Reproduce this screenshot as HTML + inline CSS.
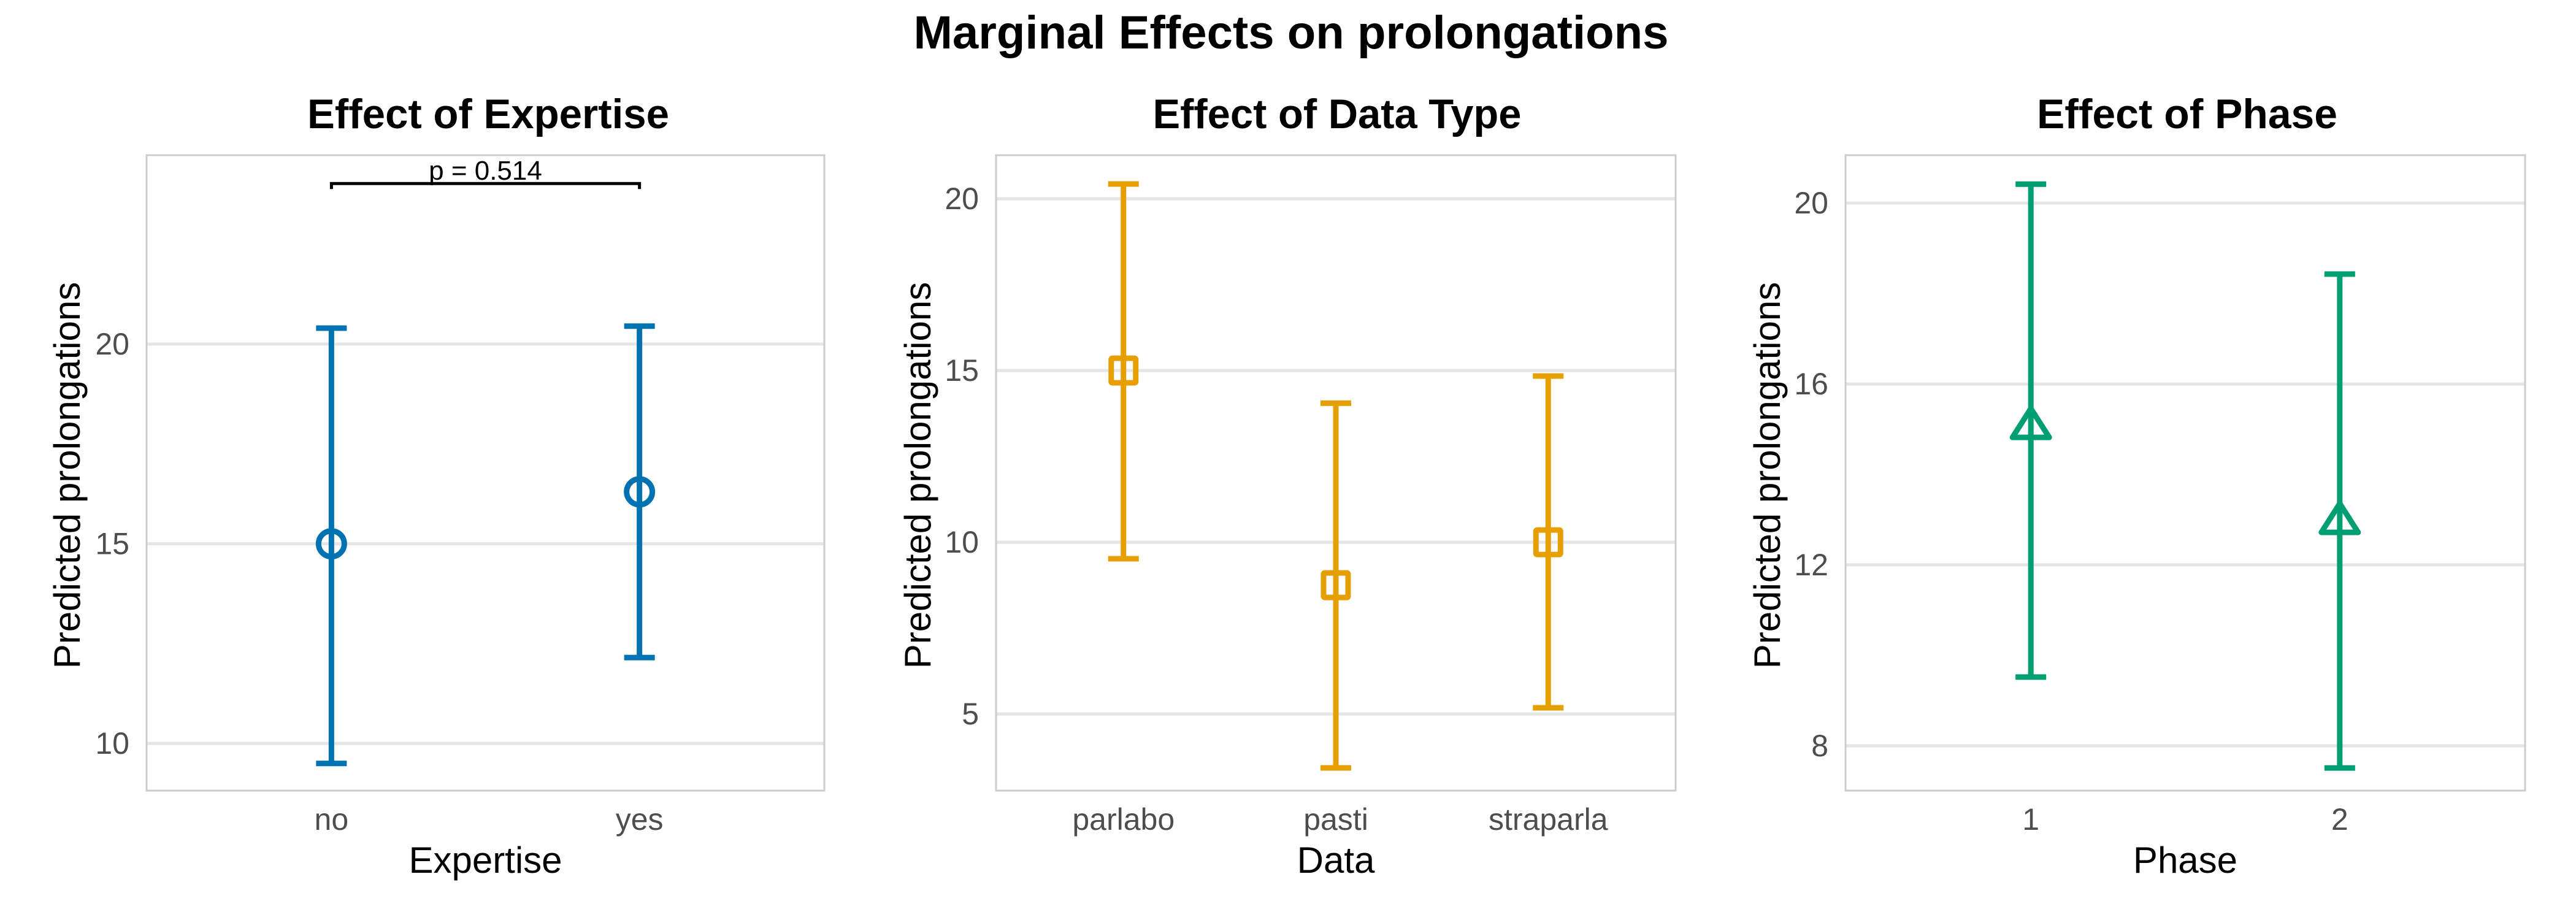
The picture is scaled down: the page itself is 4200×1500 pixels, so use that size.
<!DOCTYPE html>
<html><head><meta charset="utf-8"><style>
html,body{margin:0;padding:0;background:#fff;}
svg{display:block;font-family:"Liberation Sans",Arial,sans-serif;}
</style></head><body>
<svg id="fig" width="4200" height="1500" viewBox="0 0 4200 1500" xmlns="http://www.w3.org/2000/svg">
<rect width="4200" height="1500" fill="#fff"/>
<text x="2105" y="79" text-anchor="middle" font-size="76" font-weight="bold" textLength="1231" lengthAdjust="spacingAndGlyphs">Marginal Effects on prolongations</text>
</svg>
<script>
// Panel 1: Expertise
const expCategories = ["no", "yes"];
const expEstimate = [15.0, 16.3];
const expLower = [9.5, 12.15];
const expUpper = [20.4, 20.45];
const expTicks = [10, 15, 20];
// Panel 2: Data type
const dataCategories = ["parlabo", "pasti", "straparla"];
const dataEstimate = [15.0, 8.75, 10.0];
const dataLower = [9.52, 3.43, 5.18];
const dataUpper = [20.43, 14.05, 14.84];
const dataTicks = [5, 10, 15, 20];
// Panel 3: Phase
const phaseCategories = ["1", "2"];
const phaseEstimate = [15.05, 12.95];
const phaseLower = [9.52, 7.51];
const phaseUpper = [20.42, 18.43];
const phaseTicks = [8, 12, 16, 20];
// significance annotation
const pLabel = "p = 0.514";
const pBracketValue = 24.02;

const NS = "http://www.w3.org/2000/svg";
const svg = document.getElementById("fig");
function mk(tag, attrs, parent) {
  const e = document.createElementNS(NS, tag);
  for (const k in attrs) e.setAttribute(k, attrs[k]);
  (parent || svg).appendChild(e);
  return e;
}

const panels = [
  {key:"expertise", title:"Effect of Expertise", titleX:796, titleW:590, xTitle:"Expertise", x0:239, x1:1344, ymin:8.82, ymax:24.73, yTitleX:130,
   cats:expCategories, est:expEstimate, lo:expLower, hi:expUpper, ticks:expTicks, color:"#0072B2", shape:"circle"},
  {key:"data-type", title:"Effect of Data Type", titleX:2180, titleW:601, xTitle:"Data", x0:1624, x1:2732, ymin:2.77, ymax:21.27, yTitleX:1517,
   cats:dataCategories, est:dataEstimate, lo:dataLower, hi:dataUpper, ticks:dataTicks, color:"#E69F00", shape:"square"},
  {key:"phase", title:"Effect of Phase", titleX:3566, titleW:490, xTitle:"Phase", x0:3009, x1:4117, ymin:7.01, ymax:21.06, yTitleX:2902,
   cats:phaseCategories, est:phaseEstimate, lo:phaseLower, hi:phaseUpper, ticks:phaseTicks, color:"#009E73", shape:"triangle"}
];
const Y0 = 253, Y1 = 1289;

panels.forEach(function(p) {
  const g = mk("g", {});
  
  
  const yScale = function(v){ return Y1 - (v - p.ymin) / (p.ymax - p.ymin) * (Y1 - Y0); };
  const n = p.cats.length;
  const xScale = function(i){ return p.x0 + (p.x1 - p.x0) * (i + 0.6) / (n - 1 + 1.2); };

  const t = mk("text", {x:p.titleX, y:209, "text-anchor":"middle", "font-size":"68", "font-weight":"bold", textLength:p.titleW, lengthAdjust:"spacingAndGlyphs"}, g);
  t.textContent = p.title;
  
  

  p.ticks.forEach(function(v) {
    const y = yScale(v);
    const gl = mk("line", {x1:p.x0, x2:p.x1, y1:y, y2:y, stroke:"#e5e5e5", "stroke-width":"5"}, g);
    
    
    const tl = mk("text", {x:p.x0 - 28, y:y + 17, "text-anchor":"end", "font-size":"50", fill:"#4d4d4d"}, g);
    tl.textContent = v;
    
    
  });
  const border = mk("rect", {x:p.x0, y:Y0, width:p.x1 - p.x0, height:Y1 - Y0, fill:"none", stroke:"#cccccc", "stroke-width":"3"}, g);
  
  

  p.cats.forEach(function(c, i) {
    const x = xScale(i);
    const xl = mk("text", {x:x, y:1353, "text-anchor":"middle", "font-size":"50", fill:"#4d4d4d"}, g);
    xl.textContent = c;
    
    

    const yh = yScale(p.hi[i]), yl = yScale(p.lo[i]), ye = yScale(p.est[i]);
    const eb = mk("path", {d:"M" + x + "," + yh + "V" + yl + "M" + (x - 25) + "," + yh + "H" + (x + 25) + "M" + (x - 25) + "," + yl + "H" + (x + 25), stroke:p.color, "stroke-width":"9", fill:"none"}, g);
    
    
    let m;
    if (p.shape === "circle") {
      m = mk("circle", {cx:x, cy:ye, r:21, fill:"none", stroke:p.color, "stroke-width":"9"}, g);
    } else if (p.shape === "square") {
      m = mk("rect", {x:x - 20, y:ye - 20, width:40, height:40, fill:"none", stroke:p.color, "stroke-width":"9", rx:"2"}, g);
    } else {
      m = mk("path", {d:"M" + x + "," + (ye - 30) + "L" + (x + 30) + "," + (ye + 17) + "L" + (x - 30) + "," + (ye + 17) + "Z", fill:"none", stroke:p.color, "stroke-width":"9", "stroke-linejoin":"round"}, g);
    }
    
    
  });

  const xt = mk("text", {x:(p.x0 + p.x1) / 2, y:1423, "text-anchor":"middle", "font-size":"60"}, g);
  xt.textContent = p.xTitle;
  
  
  const yt = mk("text", {x:0, y:0, "text-anchor":"middle", "font-size":"60", transform:"translate(" + p.yTitleX + "," + ((Y0 + Y1) / 2 + 4) + ") rotate(-90)"}, g);
  yt.textContent = "Predicted prolongations";
  
  

  if (p.key === "expertise") {
    const yb = yScale(pBracketValue);
    const xa = xScale(0), xb = xScale(1);
    const br = mk("path", {d:"M" + xa + "," + (yb + 9) + "V" + yb + "H" + xb + "V" + (yb + 9), stroke:"#000", "stroke-width":"5", fill:"none"}, g);
    
    
    const pt = mk("text", {x:(xa + xb) / 2, y:yb - 6, "text-anchor":"middle", "font-size":"44"}, g);
    pt.textContent = pLabel;
    
    
  }
});
</script>
</body></html>
